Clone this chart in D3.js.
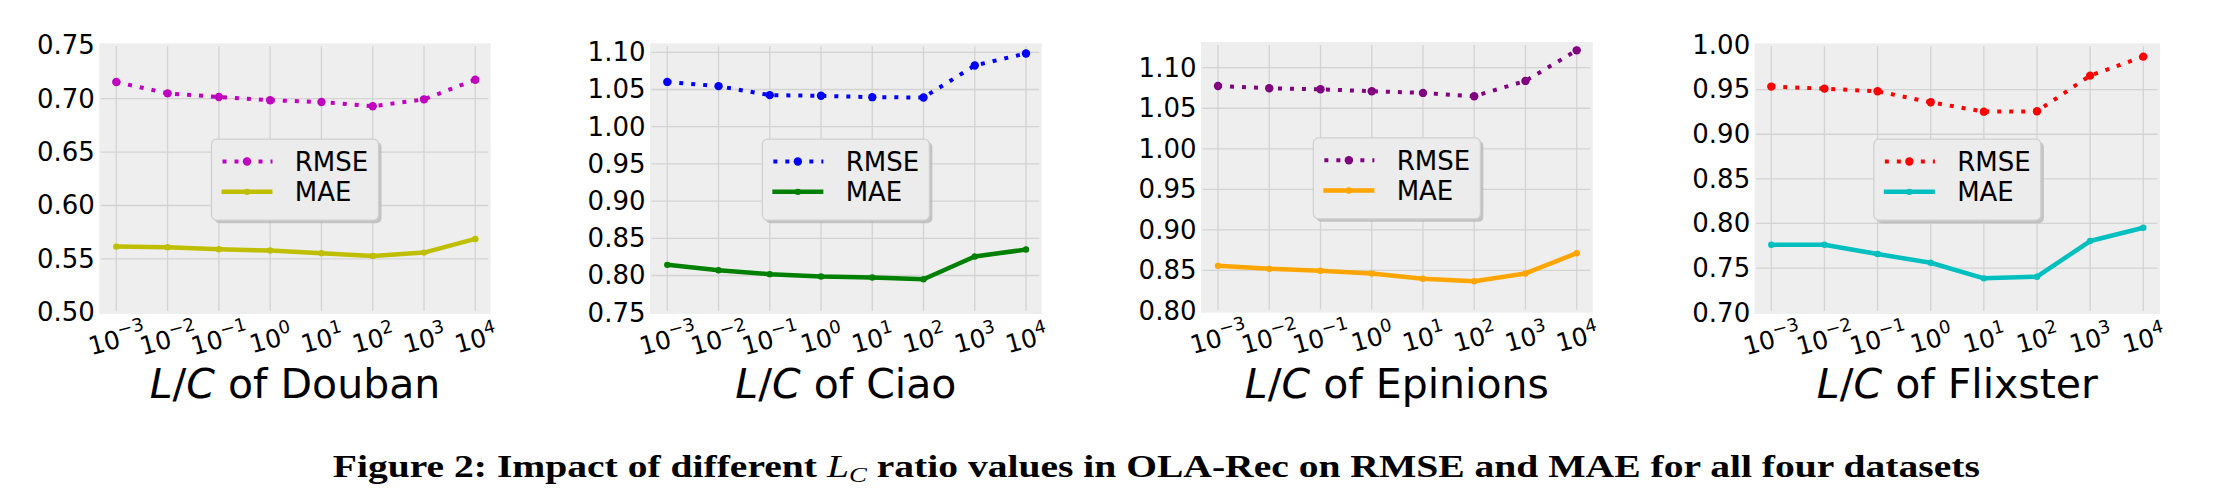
<!DOCTYPE html>
<html><head><meta charset="utf-8">
<script src="https://cdn.jsdelivr.net/npm/d3@7"></script>
<style>body{margin:0;background:#fff} svg{display:block}</style>
</head><body>
<svg id="c" width="2240" height="491"></svg>
<script>
// ---------------- data ----------------
const exponents = [-3, -2, -1, 0, 1, 2, 3, 4];
const datasets = ["Douban", "Ciao", "Epinions", "Flixster"];
const seriesNames = ["RMSE", "MAE"];

const rmseDouban   = [0.7156, 0.7050, 0.7016, 0.6985, 0.6969, 0.6929, 0.6994, 0.7178];
const maeDouban    = [0.5615, 0.5610, 0.5591, 0.5578, 0.5553, 0.5528, 0.5559, 0.5687];
const rmseCiao     = [1.0602, 1.0545, 1.0424, 1.0415, 1.0397, 1.0392, 1.0823, 1.0984];
const maeCiao      = [0.8143, 0.8071, 0.8018, 0.7987, 0.7973, 0.7950, 0.8255, 0.8349];
const rmseEpinions = [1.0775, 1.0747, 1.0734, 1.0710, 1.0689, 1.0648, 1.0837, 1.1214];
const maeEpinions  = [0.8557, 0.8520, 0.8496, 0.8463, 0.8397, 0.8368, 0.8463, 0.8713];
const rmseFlixster = [0.9534, 0.9511, 0.9481, 0.9358, 0.9253, 0.9257, 0.9657, 0.9870];
const maeFlixster  = [0.7761, 0.7761, 0.7657, 0.7560, 0.7385, 0.7403, 0.7803, 0.7952];

const yTicksDouban   = [0.50, 0.55, 0.60, 0.65, 0.70, 0.75];
const yTicksCiao     = [0.75, 0.80, 0.85, 0.90, 0.95, 1.00, 1.05, 1.10];
const yTicksEpinions = [0.80, 0.85, 0.90, 0.95, 1.00, 1.05, 1.10];
const yTicksFlixster = [0.70, 0.75, 0.80, 0.85, 0.90, 0.95, 1.00];

const rmseColors = ["#bf00bf", "#0000ff", "#800080", "#ff0000"];
const maeColors  = ["#bfbf00", "#008000", "#ffa500", "#00bfbf"];

const captionText = ["Figure 2: Impact of different ", "L", "C", " ratio values in OLA-Rec on RMSE and MAE for all four datasets"];

// ---------------- layout (pixels) ----------------
const layout = [
  {bgL: 99.3,  bgR: 490.7,  bgT: 43.3, bgB: 314,   x0: 116.3,  x1: 475.3,  yLoPx: 312.3, yHiPx: 45.3},
  {bgL: 650,   bgR: 1041.7, bgT: 43.3, bgB: 314,   x0: 667.3,  x1: 1026,   yLoPx: 312.7, yHiPx: 52.3},
  {bgL: 1201,  bgR: 1592.7, bgT: 42,   bgB: 312.7, x0: 1218,   x1: 1576.7, yLoPx: 311,   yHiPx: 67.7},
  {bgL: 1754.7,bgR: 2160,   bgT: 43.3, bgB: 314,   x0: 1771.3, x1: 2143.3, yLoPx: 312.7, yHiPx: 45}
];

const rmseAll = [rmseDouban, rmseCiao, rmseEpinions, rmseFlixster];
const maeAll = [maeDouban, maeCiao, maeEpinions, maeFlixster];
const yTicksAll = [yTicksDouban, yTicksCiao, yTicksEpinions, yTicksFlixster];

const svg = d3.select("#c");
const FONT = "'DejaVu Sans', sans-serif";

datasets.forEach((name, p) => {
  const L = layout[p];
  const ticks = yTicksAll[p];
  const g = svg.append("g");

  const x = d3.scalePoint().domain(exponents).range([L.x0, L.x1]);
  const y = d3.scaleLinear().domain([ticks[0], ticks[ticks.length - 1]]).range([L.yLoPx, L.yHiPx]);

  // background
  g.append("rect").attr("x", L.bgL).attr("y", L.bgT)
    .attr("width", L.bgR - L.bgL).attr("height", L.bgB - L.bgT).attr("fill", "#eeeeee");

  // grid
  g.selectAll(".vg").data(exponents).enter().append("line")
    .attr("x1", d => x(d)).attr("x2", d => x(d))
    .attr("y1", L.bgT + 3).attr("y2", L.bgB - 3)
    .attr("stroke", "#d3d3d3").attr("stroke-width", 1.3);
  g.selectAll(".hg").data(ticks.filter(t => y(t) > L.bgT + 4 && y(t) < L.bgB - 4)).enter().append("line")
    .attr("x1", L.bgL + 1.5).attr("x2", L.bgR - 2.5)
    .attr("y1", d => y(d)).attr("y2", d => y(d))
    .attr("stroke", "#d3d3d3").attr("stroke-width", 1.3);

  // y axis
  const ya = g.append("g").attr("transform", `translate(${L.bgL},0)`)
    .call(d3.axisLeft(y).tickValues(ticks).tickFormat(d3.format(".2f")).tickSize(0).tickPadding(4.5));
  ya.select(".domain").remove();
  ya.selectAll("text").attr("font-family", FONT).attr("font-size", 26).attr("fill", "#000");

  // x axis
  const xa = g.append("g").attr("transform", `translate(0,${L.bgB})`)
    .call(d3.axisBottom(x).tickSize(0));
  xa.select(".domain").remove();
  xa.selectAll("text").each(function(d) {
    const t = d3.select(this);
    t.text(null).attr("y", 10).attr("dy", null)
      .attr("transform", "translate(0,24) rotate(-15)")
      .attr("text-anchor", "middle")
      .attr("font-family", FONT).attr("font-size", 25).attr("fill", "#000");
    t.append("tspan").text("10");
    const s = String(d).replace("-", "\u2212");
    t.append("tspan").attr("font-size", 18).attr("dy", -11).text(s);
  });

  // lines
  const line = d3.line().x((v, i) => x(exponents[i])).y(v => y(v));
  g.append("path").datum(maeAll[p]).attr("d", line)
    .attr("fill", "none").attr("stroke", maeColors[p]).attr("stroke-width", 4.5)
    .attr("stroke-linejoin", "round");
  g.selectAll(".mm").data(maeAll[p]).enter().append("circle")
    .attr("cx", (v, i) => x(exponents[i])).attr("cy", v => y(v)).attr("r", 3.2)
    .attr("fill", maeColors[p]);
  g.append("path").datum(rmseAll[p]).attr("d", line)
    .attr("fill", "none").attr("stroke", rmseColors[p]).attr("stroke-width", 4)
    .attr("stroke-dasharray", "4,8");
  g.selectAll(".rm").data(rmseAll[p]).enter().append("circle")
    .attr("cx", (v, i) => x(exponents[i])).attr("cy", v => y(v)).attr("r", 4.2)
    .attr("fill", rmseColors[p]);

  // legend
  const lw = 167, lh = 81;
  const lx = (L.bgL + L.bgR) / 2 - lw / 2;
  const ly = (L.bgT + L.bgB) / 2 + 1 - lh / 2;
  const lg = g.append("g").attr("transform", `translate(${lx},${ly})`);
  lg.append("rect").attr("x", 3).attr("y", 3).attr("width", lw).attr("height", lh)
    .attr("rx", 5).attr("fill", "#b8b8b8").attr("opacity", 0.8);
  lg.append("rect").attr("x", 0).attr("y", 0).attr("width", lw).attr("height", lh)
    .attr("rx", 5).attr("fill", "#ececec").attr("stroke", "#cfcfcf").attr("stroke-width", 1.2);
  const rows = [22.4, 52.7];
  seriesNames.forEach((sn, k) => {
    const ry = rows[k];
    const col = k === 0 ? rmseColors[p] : maeColors[p];
    const ln = lg.append("line").attr("x1", 10).attr("x2", 61).attr("y1", ry).attr("y2", ry)
      .attr("stroke", col);
    if (k === 0) ln.attr("stroke-width", 4).attr("stroke-dasharray", "4,8").attr("stroke-dashoffset", -1);
    else ln.attr("stroke-width", 4.5);
    lg.append("circle").attr("cx", 35.5).attr("cy", ry).attr("r", k === 0 ? 4.2 : 3.2).attr("fill", col);
    lg.append("text").attr("x", 83.3).attr("y", ry + 9.5)
      .attr("font-family", FONT).attr("font-size", 26).attr("fill", "#000").text(sn);
  });

  // x label
  const xl = g.append("text").attr("x", (L.bgL + L.bgR) / 2).attr("y", 398)
    .attr("text-anchor", "middle").attr("font-family", FONT).attr("font-size", 41).attr("fill", "#000");
  xl.append("tspan").attr("font-style", "italic").text("L");
  xl.append("tspan").text("/");
  xl.append("tspan").attr("font-style", "italic").text("C");
  xl.append("tspan").text(" of " + name);
});

// caption
const cap = svg.append("text").attr("x", 1156.3).attr("y", 476.5)
  .attr("text-anchor", "middle")
  .attr("font-family", "'Liberation Serif', serif").attr("font-weight", "bold")
  .attr("font-size", 31).attr("fill", "#000")
  .attr("textLength", 1647).attr("lengthAdjust", "spacingAndGlyphs");
cap.append("tspan").text(captionText[0]);
cap.append("tspan").attr("font-style", "italic").attr("font-weight", "normal").text(captionText[1]);
cap.append("tspan").attr("font-style", "italic").attr("font-weight", "normal").attr("font-size", 21).attr("dy", 5).text(captionText[2]);
cap.append("tspan").attr("dy", -5).text(captionText[3]);
</script>
</body></html>
